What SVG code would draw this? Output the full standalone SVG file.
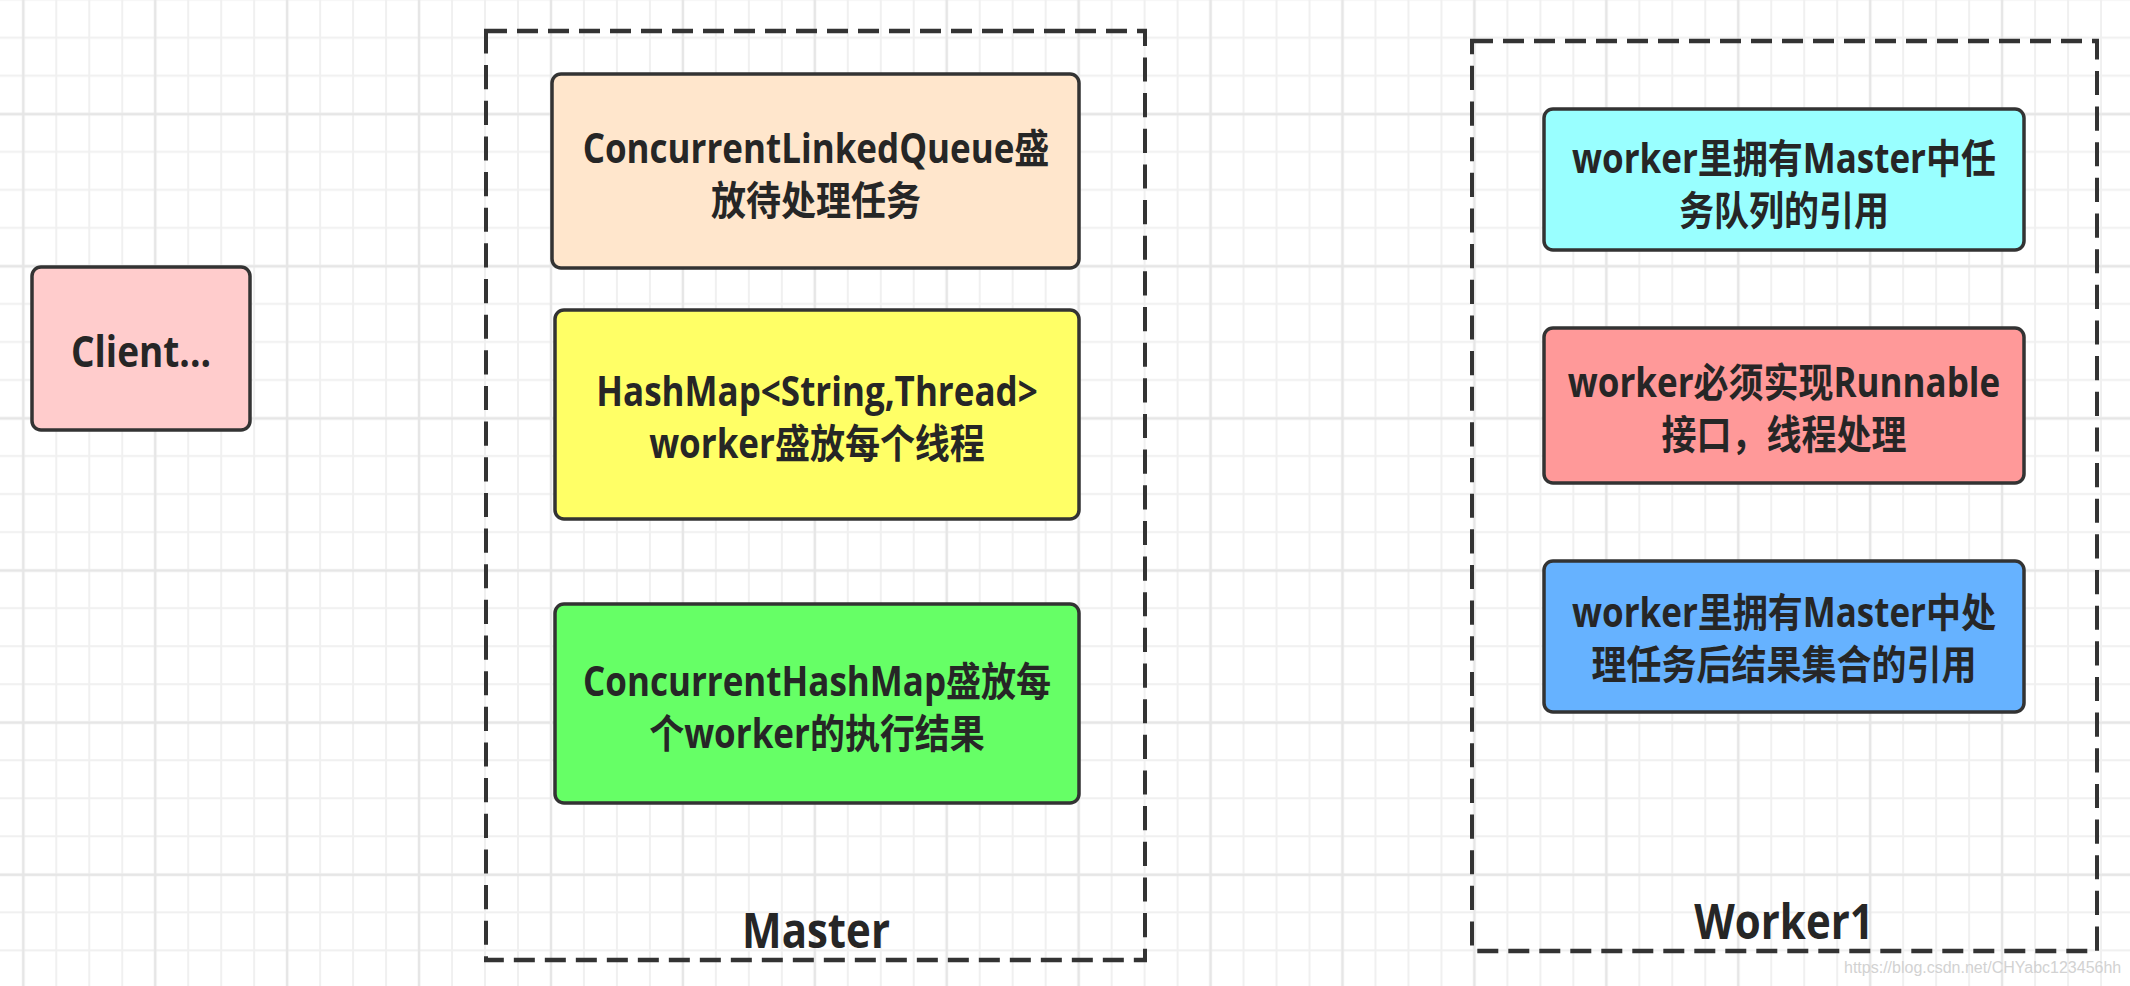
<svg xmlns="http://www.w3.org/2000/svg" width="2130" height="986" viewBox="0 0 2130 986">
  <defs>
    <pattern id="minor" patternUnits="userSpaceOnUse" x="13.3" y="27.7" width="32.98" height="38.03">
      <path d="M10 0 V38.03 M0 10 H32.98" stroke="#f0f0f0" stroke-width="2" fill="none"/>
    </pattern>
    <pattern id="major" patternUnits="userSpaceOnUse" x="13.3" y="104.3" width="131.92" height="152.12">
      <path d="M10 0 V152.12 M0 10 H131.92" stroke="#e6e6e6" stroke-width="2.5" fill="none"/>
    </pattern>
  </defs>
  <style>
    .node { stroke: #333333; stroke-width: 3.5; }
    .frame { fill: none; stroke: #333333; stroke-width: 4; stroke-dasharray: 21 10; }
    .t { font-family: "Open Sans", "Noto Sans CJK SC", sans-serif; font-weight: bold; font-size: 35px; fill: #262626; text-anchor: middle; }
    .big { font-size: 42px; }
    .wm { font-family: "Liberation Sans", Arial, sans-serif; font-size: 16px; fill: #d2d2d2; }
  </style>
  <rect x="0" y="0" width="2130" height="986" fill="#ffffff"/>
  <rect x="0" y="0" width="2130" height="986" fill="url(#minor)"/>
  <rect x="0" y="0" width="2130" height="986" fill="url(#major)"/>

  <g id="master">
    <g transform="scale(1,1.15)"><rect class="frame" x="486" y="26.96" width="659" height="807.83"/></g>
    <g transform="translate(816,948) scale(1,1.15)"><text class="t big" x="0" y="0">Master</text></g>
  </g>
  <g id="worker1">
    <g transform="scale(1,1.15)"><rect class="frame" x="1472" y="35.65" width="625" height="791.3"/></g>
    <g transform="translate(1784,939) scale(1,1.15)"><text class="t big" x="0" y="0">Worker1</text></g>
  </g>

  <g id="client">
    <rect class="node" x="32" y="267" width="218" height="163" rx="9" fill="#ffcccc"/>
    <g transform="translate(141,367) scale(1,1.15)"><text class="t" style="font-size:37px" x="0" y="0">Client...</text></g>
  </g>

  <g id="queue">
    <rect class="node" x="552" y="74" width="527" height="194" rx="9" fill="#ffe6cc"/>
    <g transform="translate(816,163) scale(1,1.15)"><text class="t" x="0" y="0">ConcurrentLinkedQueue盛</text><text class="t" x="0" y="45">放待处理任务</text></g>
  </g>
  <g id="hashmap">
    <rect class="node" x="555" y="310" width="524" height="209" rx="9" fill="#ffff66"/>
    <g transform="translate(817,406) scale(1,1.15)"><text class="t" x="0" y="0">HashMap&lt;String,Thread&gt;</text><text class="t" x="0" y="45">worker盛放每个线程</text></g>
  </g>
  <g id="results">
    <rect class="node" x="555" y="604" width="524" height="199" rx="9" fill="#66ff66"/>
    <g transform="translate(817,696) scale(1,1.15)"><text class="t" x="0" y="0">ConcurrentHashMap盛放每</text><text class="t" x="0" y="45">个worker的执行结果</text></g>
  </g>

  <g id="w-queue">
    <rect class="node" x="1544" y="109" width="480" height="141" rx="9" fill="#99ffff"/>
    <g transform="translate(1784,173) scale(1,1.15)"><text class="t" x="0" y="0">worker里拥有Master中任</text><text class="t" x="0" y="45">务队列的引用</text></g>
  </g>
  <g id="w-runnable">
    <rect class="node" x="1544" y="328" width="480" height="155" rx="9" fill="#ff9999"/>
    <g transform="translate(1784,397) scale(1,1.15)"><text class="t" x="0" y="0">worker必须实现Runnable</text><text class="t" x="0" y="45">接口，线程处理</text></g>
  </g>
  <g id="w-results">
    <rect class="node" x="1544" y="561" width="480" height="151" rx="9" fill="#66b2ff"/>
    <g transform="translate(1784,627) scale(1,1.15)"><text class="t" x="0" y="0">worker里拥有Master中处</text><text class="t" x="0" y="45">理任务后结果集合的引用</text></g>
  </g>

  <g id="connectors"></g>

  <text class="wm" x="1844" y="973">https://blog.csdn.net/CHYabc123456hh</text>
</svg>
